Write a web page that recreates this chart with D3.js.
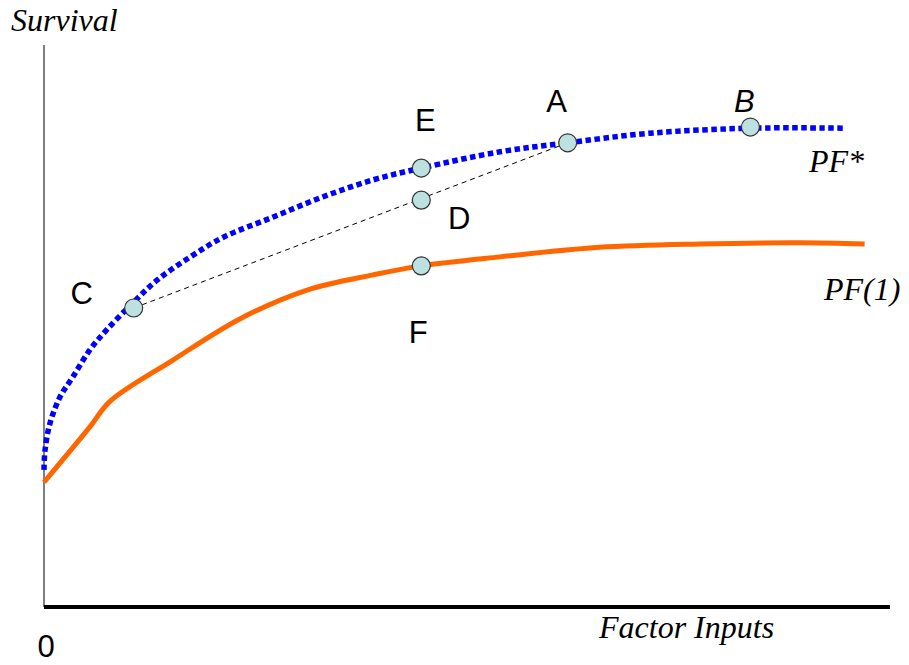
<!DOCTYPE html>
<html lang="en">
<head>
  <meta charset="UTF-8">
  <title>Production Functions</title>
  <style>
    body { margin: 0; background: #fff; }
    svg { display: block; }
    .lbl { font-family: "Liberation Sans", Arial, sans-serif; font-size: 31px; fill: #000; }
    .ital { font-family: "Liberation Serif", "Times New Roman", serif; font-style: italic; font-size: 32px; fill: #000; }
  </style>
</head>
<body>
  <script src="https://d3js.org/d3.v7.min.js"></script>
  <script>
    // curve PF* (blue dotted), x = factor inputs, y = survival (0-100 scale)
    const pfStarX = [0, 0.12, 0.71, 1.9, 3.4, 5.4, 7.4, 10.5, 13.4, 17.3, 21.2, 27.1, 33.0, 38.9, 44.6, 53.9, 61.9, 71.6, 83.5, 94.7];
    const pfStarY = [24.4, 27.9, 32.7, 37.4, 40.9, 45.7, 49.3, 54.1, 58.2, 62.3, 65.8, 69.4, 73.0, 76.0, 78.1, 81.0, 82.6, 84.3, 85.2, 85.2];

    // curve PF(1) (orange)
    const pf1X = [0, 5.4, 7.8, 15.2, 23.2, 31.1, 38.9, 44.6, 53.9, 65.7, 77.5, 89.4, 97.0];
    const pf1Y = [22.2, 32.0, 36.6, 43.9, 51.3, 56.4, 59.1, 60.7, 62.3, 64.0, 64.6, 64.8, 64.6];

    // labelled points
    const pointNames = ['C', 'E', 'D', 'A', 'F', 'B'];
    const pointX = [10.6, 44.6, 44.6, 61.9, 44.6, 83.5];
    const pointY = [53.2, 78.1, 72.4, 82.6, 60.7, 85.4];

    const width = 909, height = 665;
    const x = d3.scaleLinear().domain([0, 100]).range([44, 890]);
    const y = d3.scaleLinear().domain([0, 100]).range([607, 45]);

    const svg = d3.select('body').append('svg')
      .attr('width', width)
      .attr('height', height);

    // axes
    svg.append('line')
      .attr('x1', x(0)).attr('x2', x(0))
      .attr('y1', y(100)).attr('y2', y(0))
      .attr('stroke', '#555').attr('stroke-width', 1.5);
    svg.append('line')
      .attr('x1', x(0)).attr('x2', x(100))
      .attr('y1', y(0)).attr('y2', y(0))
      .attr('stroke', '#000').attr('stroke-width', 4);

    const line = d3.line()
      .x(d => x(d[0]))
      .y(d => y(d[1]))
      .curve(d3.curveCatmullRom.alpha(0.5));

    svg.append('path')
      .datum(pf1X.map((v, i) => [v, pf1Y[i]]))
      .attr('d', line)
      .attr('fill', 'none')
      .attr('stroke', '#ff6600')
      .attr('stroke-width', 5);

    svg.append('path')
      .datum(pfStarX.map((v, i) => [v, pfStarY[i]]))
      .attr('d', line)
      .attr('fill', 'none')
      .attr('stroke', '#0000ff')
      .attr('stroke-width', 5.5)
      .attr('stroke-dasharray', '5.5,3.5');

    // dashed chord C -> A
    const iC = pointNames.indexOf('C'), iA = pointNames.indexOf('A');
    svg.append('line')
      .attr('x1', x(pointX[iC])).attr('y1', y(pointY[iC]))
      .attr('x2', x(pointX[iA])).attr('y2', y(pointY[iA]))
      .attr('stroke', '#000')
      .attr('stroke-width', 1)
      .attr('stroke-dasharray', '5,4');

    svg.selectAll('circle.pt')
      .data(pointNames)
      .enter().append('circle')
        .attr('class', 'pt')
        .attr('cx', (d, i) => x(pointX[i]))
        .attr('cy', (d, i) => y(pointY[i]))
        .attr('r', 9)
        .attr('fill', '#bde0e0')
        .attr('stroke', '#333')
        .attr('stroke-width', 1.2);

    // point labels, offset from each point
    const labelDx = { C: -52, E: 4, D: 38, A: -11, F: -3, B: -6 };
    const labelDy = { C: -15, E: -48, D: 18, A: -42, F: 66, B: -26 };
    svg.selectAll('text.pt')
      .data(pointNames)
      .enter().append('text')
        .attr('class', 'lbl')
        .attr('x', (d, i) => x(pointX[i]) + labelDx[d])
        .attr('y', (d, i) => y(pointY[i]) + labelDy[d])
        .attr('dy', '0.35em')
        .attr('text-anchor', 'middle')
        .style('font-style', d => d === 'B' ? 'italic' : 'normal')
        .text(d => d);

    svg.append('text').attr('class', 'ital')
      .attr('x', 809).attr('y', 172).text('PF*');
    svg.append('text').attr('class', 'ital')
      .attr('x', 824).attr('y', 300).text('PF(1)');
    svg.append('text').attr('class', 'ital')
      .attr('x', 11).attr('y', 31).text('Survival');
    svg.append('text').attr('class', 'ital')
      .attr('x', 599).attr('y', 638).text('Factor Inputs');
    svg.append('text').attr('class', 'lbl')
      .attr('x', 46).attr('y', 657)
      .attr('text-anchor', 'middle')
      .text('0');
  </script>
</body>
</html>
